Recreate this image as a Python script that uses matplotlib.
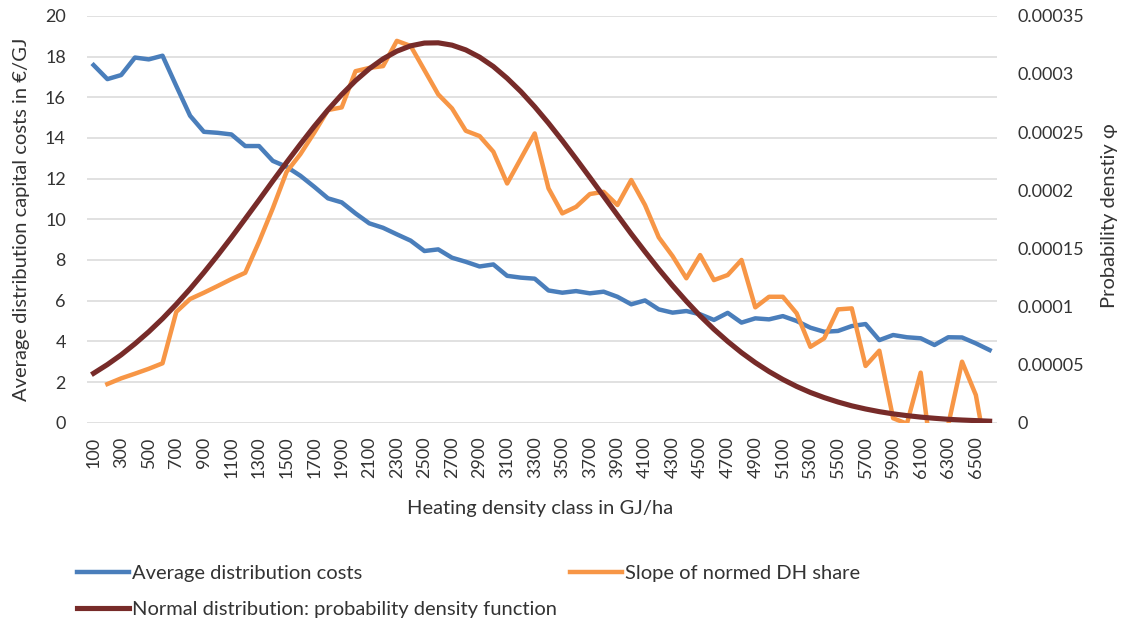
import numpy as np
import matplotlib
matplotlib.use("Agg")
import matplotlib.pyplot as plt
from matplotlib.ticker import FuncFormatter

plt.rcParams['font.family'] = ['Lato', 'DejaVu Sans']

# heating density classes (GJ/ha)
classes = list(range(100, 6700, 100))

# average distribution capital costs (EUR/GJ), left axis
avg_cost = [17.58, 16.89, 17.09, 17.95, 17.86, 18.04, 16.55, 15.09, 14.30, 14.25,
            14.17, 13.60, 13.60, 12.87, 12.58, 12.14, 11.60, 11.03, 10.83, 10.29,
            9.80, 9.58, 9.26, 8.95, 8.44, 8.52, 8.11, 7.91, 7.68, 7.78,
            7.22, 7.13, 7.08, 6.50, 6.39, 6.47, 6.36, 6.44, 6.19, 5.82,
            6.01, 5.57, 5.41, 5.49, 5.33, 5.05, 5.40, 4.92, 5.13, 5.08,
            5.24, 5.00, 4.67, 4.47, 4.51, 4.75, 4.85, 4.06, 4.31, 4.20,
            4.15, 3.82, 4.20, 4.19, 3.90, 3.57]

# slope of normed DH share, left axis (no value for first class)
slope = [np.nan, 1.90, 2.18, 2.41, 2.65, 2.92, 5.45, 6.08, 6.39, 6.72,
         7.06, 7.37, 8.89, 10.54, 12.33, 13.20, 14.25, 15.37, 15.50, 17.28,
         17.44, 17.53, 18.77, 18.52, 17.33, 16.14, 15.45, 14.35, 14.09, 13.32,
         11.76, 12.99, 14.22, 11.52, 10.29, 10.61, 11.24, 11.35, 10.70, 11.93,
         10.70, 9.11, 8.19, 7.10, 8.24, 7.01, 7.26, 8.00, 5.67, 6.19,
         6.19, 5.38, 3.73, 4.15, 5.57, 5.62, 2.79, 3.54, 0.22, -0.05,
         2.46, -2.80, -0.10, 3.00, 1.36, -2.40]

# normal distribution pdf, right axis (in 1e-5)
pdf_e5 = [4.25, 5.00, 5.84, 6.79, 7.82, 8.95, 10.19, 11.51, 12.92, 14.40,
          15.94, 17.54, 19.15, 20.79, 22.39, 23.96, 25.48, 26.91, 28.23, 29.42,
          30.45, 31.30, 31.96, 32.42, 32.66, 32.68, 32.48, 32.07, 31.45, 30.64,
          29.63, 28.48, 27.18, 25.77, 24.27, 22.70, 21.10, 19.48, 17.86, 16.25,
          14.71, 13.21, 11.79, 10.45, 9.19, 8.04, 6.99, 6.03, 5.17, 4.40,
          3.72, 3.12, 2.60, 2.16, 1.78, 1.45, 1.18, 0.95, 0.76, 0.61,
          0.48, 0.38, 0.29, 0.23, 0.18, 0.13]
pdf = np.array(pdf_e5) * 1e-5

txt = '#333333'
grid = '#d9d9d9'

fig = plt.figure(figsize=(11.26, 6.24), dpi=100)
ax = fig.add_axes([0.077, 0.3226, 0.808, 0.652])
ax2 = ax.twinx()

x = np.arange(len(classes))
l1, = ax.plot(x, avg_cost, color='#4a7ebb', lw=3.2, label='Average distribution costs')
l2, = ax.plot(x, slope, color='#f79646', lw=3.2, label='Slope of normed DH share')
l3, = ax2.plot(x, pdf, color='#772b29', lw=3.7,
               label='Normal distribution: probability density function')

ax.set_xlim(-0.5, len(classes) - 0.5)
ax.set_ylim(0, 20)
ax.set_yticks(np.arange(0, 21, 2))
ax2.set_ylim(0, 0.00035)
ax2.set_yticks(np.arange(0, 0.000351, 0.00005))
ax2.yaxis.set_major_formatter(FuncFormatter(
    lambda v, p: '0' if abs(v) < 1e-12 else ('%.5f' % v).rstrip('0').rstrip('.')))

ax.set_xticks(x[::2])
ax.set_xticklabels([str(c) for c in classes[::2]], rotation=90)

ax.yaxis.grid(True, color=grid, lw=1.1)
ax.set_axisbelow(True)
for a in (ax, ax2):
    for s in a.spines.values():
        s.set_visible(False)
ax.tick_params(axis='x', length=0, pad=10, labelsize=13, labelcolor=txt)
ax.tick_params(axis='y', length=0, pad=15, labelsize=13, labelcolor=txt)
ax2.tick_params(axis='y', length=0, pad=15, labelsize=13, labelcolor=txt)

ax.set_xlabel('Heating density class in GJ/ha', fontsize=14.5, color=txt)
ax.xaxis.set_label_coords(0.498, -0.21)
ax.xaxis.label.set_va('center')
ax.set_ylabel('Average distribution capital costs in €/GJ', fontsize=14.5, color=txt)
ax.yaxis.set_label_coords(-0.0714, 0.5)
ax.yaxis.label.set_va('center')
ax2.set_ylabel('Probability denstiy φ', fontsize=14.5, color=txt)
ax2.yaxis.set_label_coords(1.1245, 0.51)
ax2.yaxis.label.set_va('center')

leg = fig.legend(handles=[l1, l3, l2], ncol=2, loc='upper left',
                 bbox_to_anchor=(0.068, 0.094), frameon=False, fontsize=14.5,
                 handlelength=2.6, handletextpad=0.15, labelspacing=0.9,
                 columnspacing=0.65, borderpad=0, borderaxespad=0)
for t in leg.get_texts():
    t.set_color(txt)

fig.savefig('out.png', dpi=100)
